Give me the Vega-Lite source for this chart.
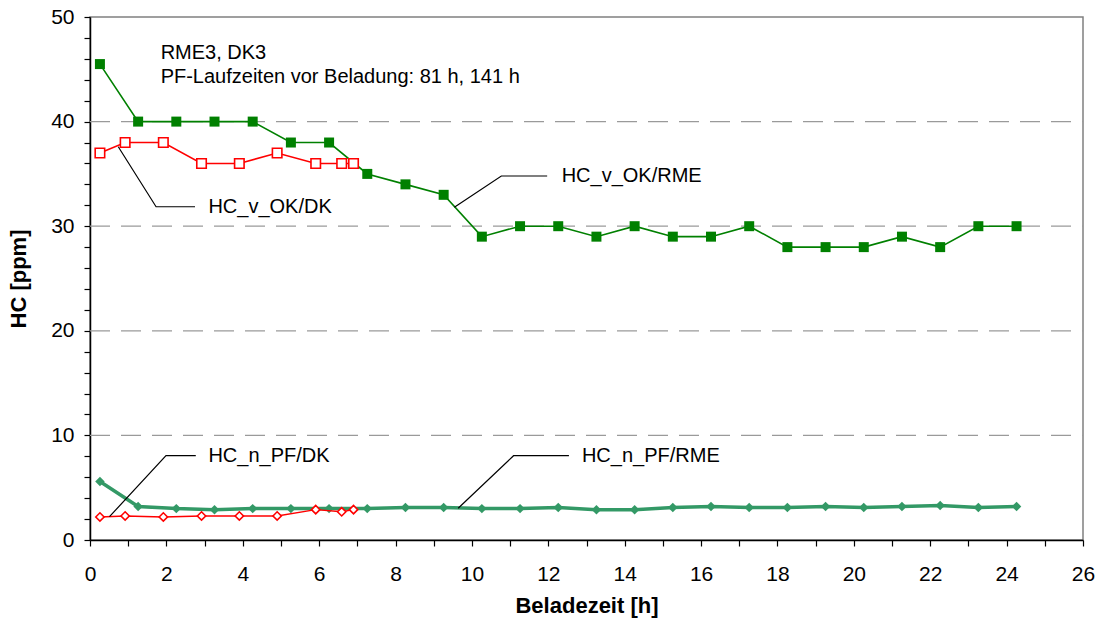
{
  "$schema": "https://vega.github.io/schema/vega-lite/v6.json",
  "width": 993,
  "height": 523,
  "autosize": "none",
  "padding": {"left": 90, "top": 17, "right": 19, "bottom": 86},
  "background": "white",
  "config": {
    "view": {"stroke": "#808080", "strokeWidth": 1.5},
    "font": "Liberation Sans",
    "axis": {"labelFont": "Liberation Sans", "titleFont": "Liberation Sans", "labelColor": "black", "titleColor": "black", "domainColor": "black", "tickColor": "black", "domainWidth": 1.5, "tickWidth": 1.2, "grid": false, "labelOverlap": false, "labelFlush": false}
  },
  "datasets": {
    "pts": [
      {"series": "RME_v", "t": 0.26, "hc": 45.5}, {"series": "RME_v", "t": 1.26, "hc": 40}, {"series": "RME_v", "t": 2.26, "hc": 40}, {"series": "RME_v", "t": 3.26, "hc": 40}, {"series": "RME_v", "t": 4.26, "hc": 40},
      {"series": "RME_v", "t": 5.26, "hc": 38}, {"series": "RME_v", "t": 6.26, "hc": 38}, {"series": "RME_v", "t": 7.26, "hc": 35}, {"series": "RME_v", "t": 8.26, "hc": 34}, {"series": "RME_v", "t": 9.26, "hc": 33},
      {"series": "RME_v", "t": 10.26, "hc": 29}, {"series": "RME_v", "t": 11.26, "hc": 30}, {"series": "RME_v", "t": 12.26, "hc": 30}, {"series": "RME_v", "t": 13.26, "hc": 29}, {"series": "RME_v", "t": 14.26, "hc": 30},
      {"series": "RME_v", "t": 15.26, "hc": 29}, {"series": "RME_v", "t": 16.26, "hc": 29}, {"series": "RME_v", "t": 17.26, "hc": 30}, {"series": "RME_v", "t": 18.26, "hc": 28}, {"series": "RME_v", "t": 19.26, "hc": 28},
      {"series": "RME_v", "t": 20.26, "hc": 28}, {"series": "RME_v", "t": 21.26, "hc": 29}, {"series": "RME_v", "t": 22.26, "hc": 28}, {"series": "RME_v", "t": 23.26, "hc": 30}, {"series": "RME_v", "t": 24.26, "hc": 30},
      {"series": "RME_n", "t": 0.26, "hc": 5.6}, {"series": "RME_n", "t": 1.26, "hc": 3.2}, {"series": "RME_n", "t": 2.26, "hc": 3.0}, {"series": "RME_n", "t": 3.26, "hc": 2.9}, {"series": "RME_n", "t": 4.26, "hc": 3.0},
      {"series": "RME_n", "t": 5.26, "hc": 3.0}, {"series": "RME_n", "t": 6.26, "hc": 3.0}, {"series": "RME_n", "t": 7.26, "hc": 3.0}, {"series": "RME_n", "t": 8.26, "hc": 3.1}, {"series": "RME_n", "t": 9.26, "hc": 3.1},
      {"series": "RME_n", "t": 10.26, "hc": 3.0}, {"series": "RME_n", "t": 11.26, "hc": 3.0}, {"series": "RME_n", "t": 12.26, "hc": 3.1}, {"series": "RME_n", "t": 13.26, "hc": 2.9}, {"series": "RME_n", "t": 14.26, "hc": 2.9},
      {"series": "RME_n", "t": 15.26, "hc": 3.1}, {"series": "RME_n", "t": 16.26, "hc": 3.2}, {"series": "RME_n", "t": 17.26, "hc": 3.1}, {"series": "RME_n", "t": 18.26, "hc": 3.1}, {"series": "RME_n", "t": 19.26, "hc": 3.2},
      {"series": "RME_n", "t": 20.26, "hc": 3.1}, {"series": "RME_n", "t": 21.26, "hc": 3.2}, {"series": "RME_n", "t": 22.26, "hc": 3.3}, {"series": "RME_n", "t": 23.26, "hc": 3.1}, {"series": "RME_n", "t": 24.26, "hc": 3.2},
      {"series": "DK_v", "t": 0.26, "hc": 37}, {"series": "DK_v", "t": 0.92, "hc": 38}, {"series": "DK_v", "t": 1.92, "hc": 38}, {"series": "DK_v", "t": 2.92, "hc": 36}, {"series": "DK_v", "t": 3.91, "hc": 36},
      {"series": "DK_v", "t": 4.9, "hc": 37}, {"series": "DK_v", "t": 5.91, "hc": 36}, {"series": "DK_v", "t": 6.59, "hc": 36}, {"series": "DK_v", "t": 6.9, "hc": 36},
      {"series": "DK_n", "t": 0.26, "hc": 2.2}, {"series": "DK_n", "t": 0.92, "hc": 2.3}, {"series": "DK_n", "t": 1.92, "hc": 2.2}, {"series": "DK_n", "t": 2.92, "hc": 2.3}, {"series": "DK_n", "t": 3.91, "hc": 2.3},
      {"series": "DK_n", "t": 4.9, "hc": 2.3}, {"series": "DK_n", "t": 5.91, "hc": 2.9}, {"series": "DK_n", "t": 6.59, "hc": 2.7}, {"series": "DK_n", "t": 6.9, "hc": 2.9}
    ],
    "grid": [
      {"id": "g10", "t": 0, "hc": 10}, {"id": "g10", "t": 26, "hc": 10},
      {"id": "g20", "t": 0, "hc": 20}, {"id": "g20", "t": 26, "hc": 20},
      {"id": "g30", "t": 0, "hc": 30}, {"id": "g30", "t": 26, "hc": 30},
      {"id": "g40", "t": 0, "hc": 40}, {"id": "g40", "t": 26, "hc": 40}
    ],
    "leaders": [
      {"id": "a", "o": 1, "t": 0.74, "hc": 37.6}, {"id": "a", "o": 2, "t": 1.73, "hc": 31.86}, {"id": "a", "o": 3, "t": 2.75, "hc": 31.86},
      {"id": "b", "o": 1, "t": 9.54, "hc": 31.8}, {"id": "b", "o": 2, "t": 10.77, "hc": 34.8}, {"id": "b", "o": 3, "t": 11.97, "hc": 34.8},
      {"id": "c", "o": 1, "t": 0.51, "hc": 2.23}, {"id": "c", "o": 2, "t": 1.99, "hc": 8.06}, {"id": "c", "o": 3, "t": 2.77, "hc": 8.06},
      {"id": "d", "o": 1, "t": 9.64, "hc": 3.03}, {"id": "d", "o": 2, "t": 11.09, "hc": 8.06}, {"id": "d", "o": 3, "t": 12.54, "hc": 8.06}
    ],
    "labels": [
      {"label": "HC_v_OK/DK", "t": 3.1, "hc": 31.86},
      {"label": "HC_v_OK/RME", "t": 12.35, "hc": 34.8},
      {"label": "HC_n_PF/DK", "t": 3.1, "hc": 8.06},
      {"label": "HC_n_PF/RME", "t": 12.88, "hc": 8.06},
      {"label": "RME3, DK3", "t": 1.85, "hc": 46.53},
      {"label": "PF-Laufzeiten vor Beladung: 81 h, 141 h", "t": 1.85, "hc": 44.26}
    ]
  },
  "encoding": {
    "x": {"field": "t", "type": "quantitative", "scale": {"domain": [0, 26], "nice": false},
      "axis": {"title": "Beladezeit [h]", "values": [0,1,2,3,4,5,6,7,8,9,10,11,12,13,14,15,16,17,18,19,20,21,22,23,24,25,26],
        "labelExpr": "datum.value % 2 === 0 ? datum.label : ''", "labelOverlap": false, "tickSize": 6, "labelFontSize": 21, "labelPadding": 17,
        "titleFontSize": 22, "titleFontWeight": "bold", "titlePadding": 11}},
    "y": {"field": "hc", "type": "quantitative", "scale": {"domain": [0, 50], "nice": false},
      "axis": {"title": "HC [ppm]", "values": [0,2,4,6,8,10,12,14,16,18,20,22,24,26,28,30,32,34,36,38,40,42,44,46,48,50],
        "labelExpr": "datum.value % 10 === 0 ? datum.label : ''", "labelOverlap": false,
        "tickSize": 6, "labelFontSize": 21, "labelPadding": 10,
        "titleFontSize": 22, "titleFontWeight": "bold", "titlePadding": 20}}
  },
  "layer": [
    {
      "data": {"name": "grid"},
      "mark": {"type": "line", "color": "#9a9a9a", "strokeWidth": 1.2, "strokeDash": [20, 11]},
      "encoding": {"detail": {"field": "id"}}
    },
    {
      "data": {"name": "pts"},
      "transform": [{"filter": "datum.series === 'RME_v'"}],
      "mark": {"type": "line", "color": "#008000", "strokeWidth": 1.6,
        "point": {"shape": "square", "size": 100, "filled": true, "color": "#008000"}},
      "encoding": {}
    },
    {
      "data": {"name": "pts"},
      "transform": [{"filter": "datum.series === 'DK_v'"}],
      "mark": {"type": "line", "color": "#ff0000", "strokeWidth": 1.6,
        "point": {"shape": "square", "size": 90, "filled": false, "fill": "white", "stroke": "#ff0000", "strokeWidth": 1.6}},
      "encoding": {}
    },
    {
      "data": {"name": "pts"},
      "transform": [{"filter": "datum.series === 'RME_n'"}],
      "mark": {"type": "line", "color": "#339966", "strokeWidth": 3.5,
        "point": {"shape": "diamond", "size": 90, "filled": true, "color": "#339966"}},
      "encoding": {}
    },
    {
      "data": {"name": "pts"},
      "transform": [{"filter": "datum.series === 'DK_n'"}],
      "mark": {"type": "line", "color": "#ff0000", "strokeWidth": 1.4,
        "point": {"shape": "diamond", "size": 70, "filled": false, "fill": "white", "stroke": "#ff0000", "strokeWidth": 1.6}},
      "encoding": {}
    },
    {
      "data": {"name": "leaders"},
      "mark": {"type": "line", "color": "black", "strokeWidth": 1.2},
      "encoding": {
        "detail": {"field": "id"},
        "order": {"field": "o"}
      }
    },
    {
      "data": {"name": "labels"},
      "mark": {"type": "text", "align": "left", "baseline": "middle", "fontSize": 20, "color": "black", "font": "Liberation Sans"},
      "encoding": {
        "text": {"field": "label"}
      }
    }
  ]
}
